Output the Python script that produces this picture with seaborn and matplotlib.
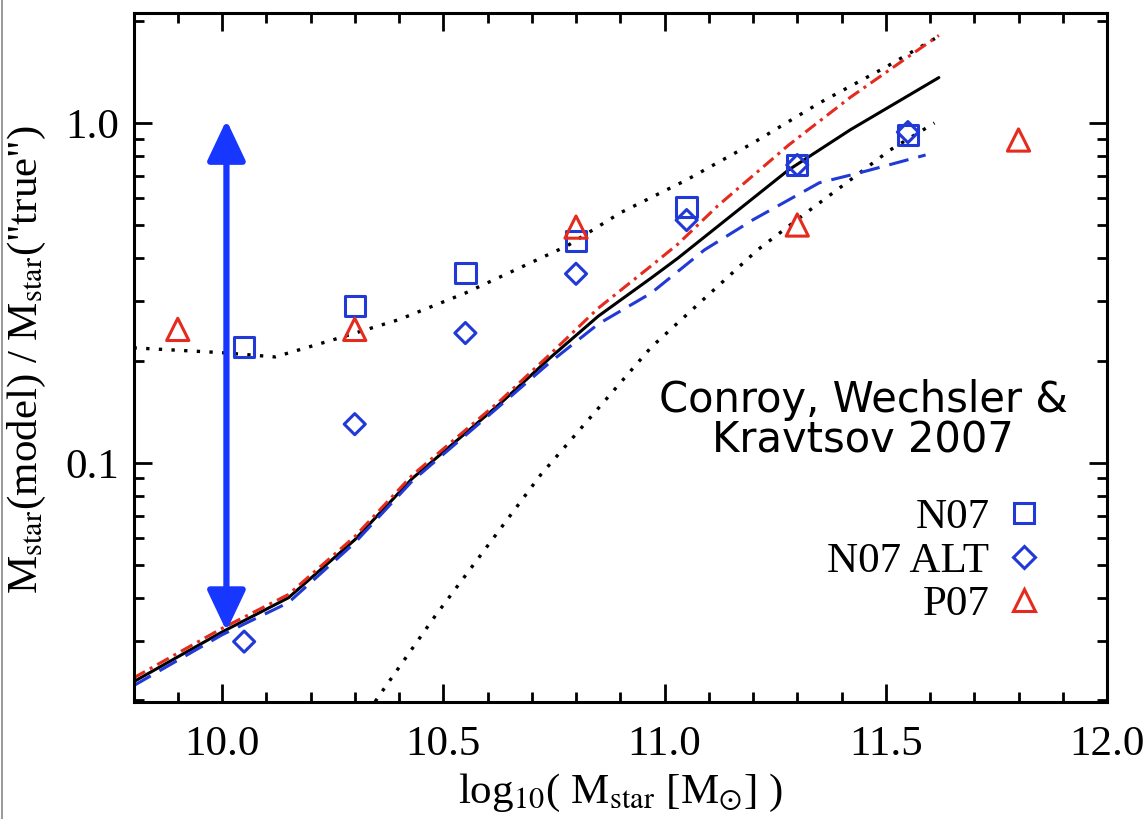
import numpy as np
import pandas as pd
import matplotlib
matplotlib.use("Agg")
import matplotlib.pyplot as plt
import seaborn as sns
from matplotlib.ticker import MultipleLocator, FixedLocator, FuncFormatter, NullFormatter, LogLocator
from matplotlib.lines import Line2D

# ---------------- data ----------------
n07_x = [10.05, 10.30, 10.55, 10.80, 11.05, 11.30, 11.55]
n07_y = [0.219, 0.290, 0.362, 0.450, 0.566, 0.752, 0.922]

alt_x = [10.05, 10.30, 10.55, 10.80, 11.05, 11.30, 11.55]
alt_y = [0.0298, 0.130, 0.241, 0.360, 0.518, 0.752, 0.940]

p07_x = [9.90, 10.30, 10.80, 11.30, 11.80]
p07_y = [0.247, 0.247, 0.494, 0.501, 0.891]

solid_x = [9.80, 10.00, 10.15, 10.30, 10.43, 10.63, 10.74, 10.85, 10.97, 11.03, 11.28, 11.42, 11.62]
solid_y = [0.0227, 0.0318, 0.0401, 0.0594, 0.090, 0.150, 0.203, 0.270, 0.350, 0.400, 0.727, 0.955, 1.36]

dash_x = [9.80, 10.00, 10.15, 10.30, 10.43, 10.63, 10.74, 10.85, 10.97, 11.09, 11.20, 11.35, 11.44, 11.59]
dash_y = [0.0221, 0.0312, 0.0388, 0.0582, 0.0885, 0.148, 0.197, 0.256, 0.316, 0.423, 0.519, 0.667, 0.713, 0.805]

red_x = [9.80, 10.00, 10.15, 10.30, 10.43, 10.63, 10.74, 10.85, 10.97, 11.03, 11.12, 11.28, 11.42, 11.62]
red_y = [0.0233, 0.0326, 0.0410, 0.0607, 0.092, 0.153, 0.208, 0.285, 0.380, 0.440, 0.570, 0.860, 1.19, 1.81]

up_x = [9.80, 10.00, 10.12, 10.25, 10.40, 10.55, 10.78, 10.90, 11.05, 11.20, 11.35, 11.50, 11.62]
up_y = [0.218, 0.211, 0.205, 0.230, 0.264, 0.316, 0.435, 0.544, 0.680, 0.873, 1.145, 1.46, 1.80]

lo_x = [10.33, 10.36, 10.48, 10.72, 10.97, 11.21, 11.32, 11.42, 11.51, 11.61]
lo_y = [0.0185, 0.0211, 0.0352, 0.0922, 0.219, 0.423, 0.544, 0.680, 0.833, 1.00]

arrow_x = 10.01
arrow_top = 1.02
arrow_bottom = 0.032

legend_labels = ["N07", "N07 ALT", "P07"]
x_ticks = [10.0, 10.5, 11.0, 11.5, 12.0]
y_ticks = [0.1, 1.0]
x_lim = (9.8, 12.0)
y_lim = (0.0198, 2.106)
annotation = "Conroy, Wechsler &\nKravtsov 2007"

# ---------------- style ----------------
sns.set_style("ticks")
plt.rcParams["font.family"] = ["Liberation Serif", "DejaVu Serif"]
plt.rcParams["mathtext.fontset"] = "stix"
for key in ["text.color", "axes.labelcolor", "xtick.color", "ytick.color", "axes.edgecolor"]:
    plt.rcParams[key] = "black"

BLUE = "#2139d6"
RED = "#e52a1e"
ARROW = "#1736ff"

fig = plt.figure(figsize=(11.48, 8.19), dpi=100)
ax = fig.add_axes([0.1163, 0.1429, 0.8480, 0.8412])
ax.set_yscale("log")

lw = 2.2
dots = (0, (1.0, 2.8))
sns.lineplot(x=up_x, y=up_y, ax=ax, color="black", lw=2.4, linestyle=dots, sort=False, estimator=None)
sns.lineplot(x=lo_x, y=lo_y, ax=ax, color="black", lw=2.4, linestyle=dots, sort=False, estimator=None)
sns.lineplot(x=solid_x, y=solid_y, ax=ax, color="black", lw=lw, sort=False, estimator=None)
sns.lineplot(x=dash_x, y=dash_y, ax=ax, color=BLUE, lw=lw, linestyle=(0, (6.5, 3.3)), sort=False, estimator=None)
sns.lineplot(x=red_x, y=red_y, ax=ax, color=RED, lw=lw, linestyle=(0, (4.3, 1.8, 1.0, 1.8)), sort=False, estimator=None)

mk = dict(facecolor="none", linewidth=2.2, zorder=5)
sns.scatterplot(x=n07_x, y=n07_y, ax=ax, marker="s", s=215, edgecolor=BLUE, **mk)
sns.scatterplot(x=alt_x, y=alt_y, ax=ax, marker="D", s=115, edgecolor=BLUE, **mk)
sns.scatterplot(x=p07_x, y=p07_y, ax=ax, marker="^", s=256, edgecolor=RED, **mk)

# double-headed arrow
ax.annotate("", xy=(arrow_x, arrow_top), xytext=(arrow_x, arrow_bottom),
            arrowprops=dict(arrowstyle="<|-|>,head_length=0.55,head_width=0.26",
                            lw=4.5, color=ARROW, mutation_scale=45,
                            shrinkA=0, shrinkB=0), zorder=6)

# axes
ax.set_xlim(*x_lim)
ax.set_ylim(*y_lim)
ax.xaxis.set_major_locator(FixedLocator(x_ticks))
ax.xaxis.set_minor_locator(MultipleLocator(0.1))
ax.xaxis.set_major_formatter(FuncFormatter(lambda v, _: f"{v:.1f}"))
ax.yaxis.set_major_locator(FixedLocator(y_ticks))
ax.yaxis.set_minor_locator(LogLocator(base=10, subs=np.arange(2, 10)))
ax.yaxis.set_major_formatter(FuncFormatter(lambda v, _: f"{v:.1f}"))
ax.yaxis.set_minor_formatter(NullFormatter())

for s in ax.spines.values():
    s.set_linewidth(2.2)
    s.set_color("black")
ax.tick_params(which="both", direction="in", top=True, right=True, width=2.0,
               color="black", labelcolor="black")
ax.tick_params(which="major", length=13, labelsize=31)
ax.tick_params(which="minor", length=7)
ax.tick_params(axis="x", which="major", pad=17)
ax.tick_params(axis="y", which="major", pad=10)

ax.set_xlabel(r"log$_{10}$( M$_{\rm star}$ [M$_{\odot}$] )", fontsize=31, labelpad=6, color="black")
ax.set_ylabel(r'M$_{\rm star}$(model) / M$_{\rm star}$("true")', fontsize=31, color="black")
ax.yaxis.set_label_coords(-0.088, 0.497)

ax.text(0.7496, 0.409, annotation, transform=ax.transAxes, ha="center", va="center",
        fontsize=30, family=["DejaVu Sans"], linespacing=0.98, color="black")

handles = [
    Line2D([], [], marker="s", ms=14.6, mfc="none", mec=BLUE, mew=2.2, ls="None"),
    Line2D([], [], marker="D", ms=10.7, mfc="none", mec=BLUE, mew=2.2, ls="None"),
    Line2D([], [], marker="^", ms=16, mfc="none", mec=RED, mew=2.2, ls="None"),
]
leg = ax.legend(handles, legend_labels, loc="center right", bbox_to_anchor=(0.9323, 0.2046),
                frameon=False, markerfirst=False, fontsize=31, handlelength=0.8,
                handletextpad=0.4, labelspacing=0.1, borderpad=0, borderaxespad=0)
for t in leg.get_texts():
    t.set_color("black")

# thin border at the far left of the picture
fig.add_artist(Line2D([0.002, 0.002], [0, 1], color="#888888", lw=1.2, transform=fig.transFigure))

fig.savefig("out.png", dpi=100)
